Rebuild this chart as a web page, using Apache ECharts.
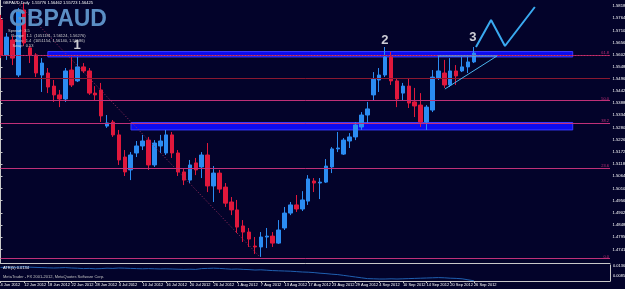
<!DOCTYPE html>
<html><head><meta charset="utf-8">
<script src="https://cdn.jsdelivr.net/npm/echarts@6/dist/echarts.min.js"></script>
<style>html,body{margin:0;padding:0;background:#03032a;}#c{width:625px;height:289px;}</style>
</head><body><div id="c"></div>
<script>
const dates = ['6 Jun 2012','7 Jun 2012','8 Jun 2012','11 Jun 2012','12 Jun 2012','13 Jun 2012','14 Jun 2012','15 Jun 2012','18 Jun 2012','19 Jun 2012','20 Jun 2012','21 Jun 2012','22 Jun 2012','25 Jun 2012','26 Jun 2012','27 Jun 2012','28 Jun 2012','29 Jun 2012','2 Jul 2012','3 Jul 2012','4 Jul 2012','5 Jul 2012','6 Jul 2012','9 Jul 2012','10 Jul 2012','11 Jul 2012','12 Jul 2012','13 Jul 2012','16 Jul 2012','17 Jul 2012','18 Jul 2012','19 Jul 2012','20 Jul 2012','23 Jul 2012','24 Jul 2012','25 Jul 2012','26 Jul 2012','27 Jul 2012','30 Jul 2012','31 Jul 2012','1 Aug 2012','2 Aug 2012','3 Aug 2012','6 Aug 2012','7 Aug 2012','8 Aug 2012','9 Aug 2012','10 Aug 2012','13 Aug 2012','14 Aug 2012','15 Aug 2012','16 Aug 2012','17 Aug 2012','20 Aug 2012','21 Aug 2012','22 Aug 2012','23 Aug 2012','24 Aug 2012','27 Aug 2012','28 Aug 2012','29 Aug 2012','30 Aug 2012','31 Aug 2012','3 Sep 2012','4 Sep 2012','5 Sep 2012','6 Sep 2012','7 Sep 2012','10 Sep 2012','11 Sep 2012','12 Sep 2012','13 Sep 2012','14 Sep 2012','17 Sep 2012','18 Sep 2012','19 Sep 2012','20 Sep 2012','21 Sep 2012','24 Sep 2012','25 Sep 2012','26 Sep 2012'];
const futureSlots = 23;
// [open, close, low, high]
const candles = [
[1.5757,1.5602,1.5588,1.5779],[1.5602,1.5681,1.5580,1.5699],[1.5668,1.5588,1.5557,1.5686],[1.5513,1.5792,1.5504,1.5810],
[1.5801,1.5655,1.5642,1.5832],[1.5633,1.5602,1.5566,1.5642],[1.5602,1.5522,1.5504,1.5610],[1.5513,1.5566,1.5438,1.5588],
[1.5522,1.5460,1.5433,1.5544],[1.5464,1.5425,1.5394,1.5491],[1.5425,1.5407,1.5371,1.5447],[1.5407,1.5531,1.5394,1.5544],
[1.5535,1.5469,1.5460,1.5593],[1.5487,1.5549,1.5482,1.5593],[1.5549,1.5531,1.5522,1.5566],[1.5531,1.5433,1.5425,1.5544],
[1.5433,1.5425,1.5402,1.5464],[1.5447,1.5332,1.5305,1.5478],[1.5287,1.5301,1.5279,1.5336],[1.5305,1.5248,1.5239,1.5314],
[1.5248,1.5137,1.5115,1.5270],[1.5150,1.5084,1.5066,1.5181],[1.5093,1.5159,1.5048,1.5172],[1.5168,1.5199,1.5150,1.5221],
[1.5199,1.5221,1.5181,1.5248],[1.5225,1.5115,1.5093,1.5239],[1.5115,1.5212,1.5106,1.5225],[1.5199,1.5221,1.5168,1.5248],
[1.5168,1.5248,1.5159,1.5270],[1.5248,1.5168,1.5146,1.5261],[1.5168,1.5084,1.5066,1.5181],[1.5084,1.5048,1.5026,1.5101],
[1.5048,1.5115,1.5035,1.5137],[1.5124,1.5093,1.5070,1.5146],[1.5106,1.5159,1.5057,1.5172],[1.5159,1.5022,1.4995,1.5212],
[1.5022,1.5079,1.4951,1.5110],[1.5079,1.5008,1.4991,1.5093],[1.5017,1.4946,1.4929,1.5035],[1.4951,1.4916,1.4893,1.4973],
[1.4916,1.4840,1.4814,1.4960],[1.4845,1.4818,1.4774,1.4871],[1.4818,1.4787,1.4752,1.4836],[1.4756,1.4752,1.4721,1.4796],
[1.4752,1.4796,1.4708,1.4818],[1.4796,1.4800,1.4747,1.4836],[1.4800,1.4769,1.4752,1.4818],[1.4769,1.4827,1.4765,1.4871],
[1.4836,1.4902,1.4827,1.4929],[1.4902,1.4938,1.4893,1.4951],[1.4938,1.4920,1.4907,1.4982],[1.4920,1.4960,1.4911,1.4999],
[1.4955,1.5053,1.4938,1.5070],[1.5044,1.5035,1.4995,1.5057],[1.5035,1.5039,1.4964,1.5057],[1.5039,1.5110,1.5035,1.5141],
[1.5106,1.5186,1.5079,1.5194],[1.5186,1.5190,1.5172,1.5261],[1.5163,1.5225,1.5159,1.5234],[1.5221,1.5239,1.5190,1.5256],
[1.5239,1.5292,1.5225,1.5305],[1.5283,1.5336,1.5270,1.5349],[1.5336,1.5363,1.5301,1.5394],[1.5425,1.5495,1.5402,1.5526],
[1.5491,1.5513,1.5438,1.5544],[1.5513,1.5593,1.5504,1.5637],[1.5593,1.5487,1.5469,1.5615],[1.5487,1.5407,1.5371,1.5500],
[1.5433,1.5464,1.5402,1.5478],[1.5464,1.5389,1.5367,1.5500],[1.5394,1.5376,1.5327,1.5456],[1.5380,1.5305,1.5283,1.5433],
[1.5305,1.5371,1.5270,1.5380],[1.5358,1.5504,1.5349,1.5535],[1.5500,1.5531,1.5491,1.5597],[1.5522,1.5469,1.5456,1.5580],
[1.5469,1.5531,1.5460,1.5588],[1.5531,1.5509,1.5469,1.5557],[1.5531,1.5549,1.5526,1.5593],[1.5549,1.5571,1.5522,1.5593],
[1.5571,1.5610,1.5566,1.5637]];
const atr = [0.0128,0.0129,0.0128,0.0130,0.0131,0.0129,0.0128,0.0127,0.0126,
0.0125,0.0126,0.0127,0.0125,0.0124,0.0122,0.0123,0.0121,0.0122,
0.0124,0.0123,0.0125,0.0124,0.0123,0.0122,0.0121,0.0122,0.0121,
0.0120,0.0121,0.0120,0.0119,0.0118,0.0119,0.0118,0.0122,0.0123,
0.0124,0.0123,0.0121,0.0119,0.0120,0.0118,0.0117,0.0115,0.0116,
0.0114,0.0112,0.0111,0.0110,0.0109,0.0107,0.0105,0.0104,0.0102,
0.0099,0.0097,0.0094,0.0092,0.0088,0.0084,0.0080,0.0076,0.0072,
0.0071,0.0070,0.0070,0.0071,0.0070,0.0071,0.0072,0.0073,0.0074,
0.0075,0.0076,0.0077,0.0076,0.0074,0.0073,0.0071,0.0066,0.0061];
const priceTicks = [1.47414,1.47951,1.48489,1.49029,1.49568,1.50108,1.50648,1.51189,1.51729,1.52268,1.52808,1.53348,1.53889,1.54429,1.54969,1.55485,1.56025,1.56565,1.57105,1.57645,1.58185];
const dateTicks = ['4 Jun 2012','12 Jun 2012','18 Jun 2012','22 Jun 2012','28 Jun 2012','4 Jul 2012','10 Jul 2012','16 Jul 2012','20 Jul 2012','26 Jul 2012','1 Aug 2012','7 Aug 2012','13 Aug 2012','17 Aug 2012','23 Aug 2012','29 Aug 2012','4 Sep 2012','10 Sep 2012','14 Sep 2012','20 Sep 2012','26 Sep 2012'];
const atrTicks = [0.0085, 0.0136];
// annotations: [bar index, price]
const fibLevels = [['61.8',1.56193],['50.0',1.54422],['38.2',1.52697],['23.6',1.50527],['0.0',1.47075]];
const fibAnchor = [[-9.7,1.6177],[43.85,1.47075]];
const dottedLevel = 1.56415;
const redLevel = 1.55219;
const zones = [[[8.0,1.5617],[96.7,1.5593]],[[22.05,1.5303],[96.7,1.5270]]];
const triangle = [[75.1,1.54511],[83.9,1.55972],[73.93,1.55972]];
const zigzag = [[80.35,1.56370],[82.9,1.57565],[85.25,1.56415],[90.3,1.58141]];
const waveLabels = [[12.93,1.56459,'1'],[64.97,1.56680,'2'],[79.84,1.56813,'3']];
const axisBoxes = [[1.56415,'#d01030'],[1.56149,'#ffffff'],[1.55972,'#d01030'],[1.55219,'#d01030'],[1.54429,'#d01030'],[1.52808,'#d01030']];

const cats = dates.concat(new Array(futureSlots).fill(''));
const N = cats.length;
const chart = echarts.init(document.getElementById('c'));
const F = 'Liberation Sans, Arial, sans-serif';
const AX = '#c8c8c8';
const UP = '#2b8cf2', DN = '#e0183c';

chart.setOption({
  backgroundColor: '#03032a',
  animation: false,
  grid: [
    {left: 0.5, right: 15, top: 0, height: 263, outerBoundsMode:'none', containLabel:false},
    {left: 0.5, right: 15, top: 265, height: 16, outerBoundsMode:'none', containLabel:false}
  ],
  xAxis: [
    {type:'category', gridIndex:0, data:cats, boundaryGap:false,
     axisLine:{show:true, lineStyle:{color:AX}}, axisTick:{show:false}, axisLabel:{show:false}, splitLine:{show:false}},
    {type:'value', gridIndex:0, min:0, max:N-1, show:false},
    {type:'category', gridIndex:1, data:cats, boundaryGap:false,
     axisLine:{show:true, lineStyle:{color:AX}},
     axisTick:{show:true, length:2, interval:(i)=> i%4===0 && i<dates.length, lineStyle:{color:AX}},
     axisLabel:{show:true, interval:(i)=> i%4===0 && i<dates.length, formatter:(v,i)=> dateTicks[i/4] || '',
       color:'#ffffff', fontSize:4, fontFamily:F, align:'left', margin:2, hideOverlap:false},
     splitLine:{show:false}}
  ],
  yAxis: [
    {type:'value', gridIndex:0, position:'right', min:1.46810, max:1.58451,
     axisLine:{show:true, lineStyle:{color:AX}},
     axisTick:{show:true, length:2, customValues:priceTicks, lineStyle:{color:AX}},
     axisLabel:{show:true, customValues:priceTicks, formatter:(v)=>v.toFixed(5), color:'#ffffff', fontSize:4.2, fontFamily:F, margin:2.5, hideOverlap:false},
     splitLine:{show:false}},
    {type:'value', gridIndex:1, position:'right', min:0.0060, max:0.0140,
     axisLine:{show:true, lineStyle:{color:AX}},
     axisTick:{show:false},
     axisLabel:{show:true, customValues:atrTicks, formatter:(v)=>v.toFixed(4), color:'#ffffff', fontSize:4, fontFamily:F, margin:3},
     splitLine:{show:false}}
  ],
  series: [
    {type:'line', xAxisIndex:1, yAxisIndex:0, data:[], z:1, silent:true,
     markArea:{silent:true, itemStyle:{color:'#0c0cee', borderColor:'#3a3aff', borderWidth:1},
       data: zones.map(z=>[{coord:z[0]},{coord:z[1]}])}},
    {type:'candlestick', xAxisIndex:0, yAxisIndex:0, data:candles, barWidth:4, z:2,
     itemStyle:{color:UP, color0:DN, borderColor:UP, borderColor0:DN, borderWidth:1}},
    {type:'line', xAxisIndex:1, yAxisIndex:0, data:fibAnchor, z:3, silent:true, showSymbol:false, symbol:'none',
     lineStyle:{color:'#a03060', width:1, type:[1,2]},
     markLine:{silent:true, symbol:'none', animation:false,
       data: fibLevels.map(f=>({yAxis:f[1], lineStyle:{color:'#c03078', width:1, type:'solid'},
          label:{show:true, position:'insideEndTop', formatter:f[0], color:'#c03078', fontSize:4, fontFamily:F, distance:[1,0]}}))
         .concat([
          {yAxis:dottedLevel, lineStyle:{color:'#8a1830', width:1, type:[1,2]}, label:{show:false}},
          {yAxis:redLevel, lineStyle:{color:'#8a1830', width:1, type:'solid'}, label:{show:false}}
         ])}},
    {type:'line', xAxisIndex:1, yAxisIndex:0, data:[], z:4, silent:true,
     markLine:{silent:true, symbol:'none', animation:false,
       data: axisBoxes.map(b=>({yAxis:b[0], lineStyle:{width:0, opacity:0},
         label:{show:true, position:'end', formatter:b[0].toFixed(5), distance:1,
           color: b[1]==='#ffffff' ? '#000000' : '#ffffff', backgroundColor:b[1], fontSize:4, fontFamily:F, padding:[0,1]}}))}},
    {type:'line', xAxisIndex:1, yAxisIndex:0, data:triangle, z:5, silent:true, showSymbol:false, symbol:'none',
     lineStyle:{color:'#4ab4ec', width:1}},
    {type:'line', xAxisIndex:1, yAxisIndex:0, data:zigzag, z:5, silent:true, showSymbol:false, symbol:'none',
     lineStyle:{color:'#3aaaf0', width:2}},
    {type:'scatter', xAxisIndex:1, yAxisIndex:0, data:waveLabels, z:6, silent:true, symbolSize:0,
     label:{show:true, position:'inside', formatter:(p)=>p.value[2], color:'#ffffff', fontSize:13, fontWeight:'bold', fontFamily:F}},
    {type:'line', xAxisIndex:2, yAxisIndex:1, data:atr, z:2, silent:true, showSymbol:false, symbol:'none',
     lineStyle:{color:'#2060b0', width:1}}
  ],
  graphic: [
    {type:'text', left:3, top:1, z:10, style:{text:'GBPAUD,Daily  1.55776 1.56462 1.55723 1.56425', fill:'#ffffff', font:'4px '+F}},
    {type:'text', left:9, top:8, z:10, style:{text:'GBPAUD', fill:'#5b8ec4', font:'bold 23px '+F}},
    {type:'text', left:8, top:28, z:10, style:{text:'Spread:  3.5\n   Range:  1.1  (1051181, 1.56124, 1.56276)\n      Bias:  1.4  (1051154, 1.56140, 1.56186)\n    Swap:  0.53', fill:'#d0d0d0', font:'4px '+F, lineHeight:5}},
    {type:'text', left:3, top:266, z:10, style:{text:'ATR(5) 0.0134', fill:'#ffffff', font:'4px '+F}},
    {type:'text', left:3, top:275, z:10, style:{text:'MetaTrader - FX 2001-2012, MetaQuotes Software Corp.', fill:'#c0c0c0', font:'4px '+F}}
  ]
});
</script></body></html>
